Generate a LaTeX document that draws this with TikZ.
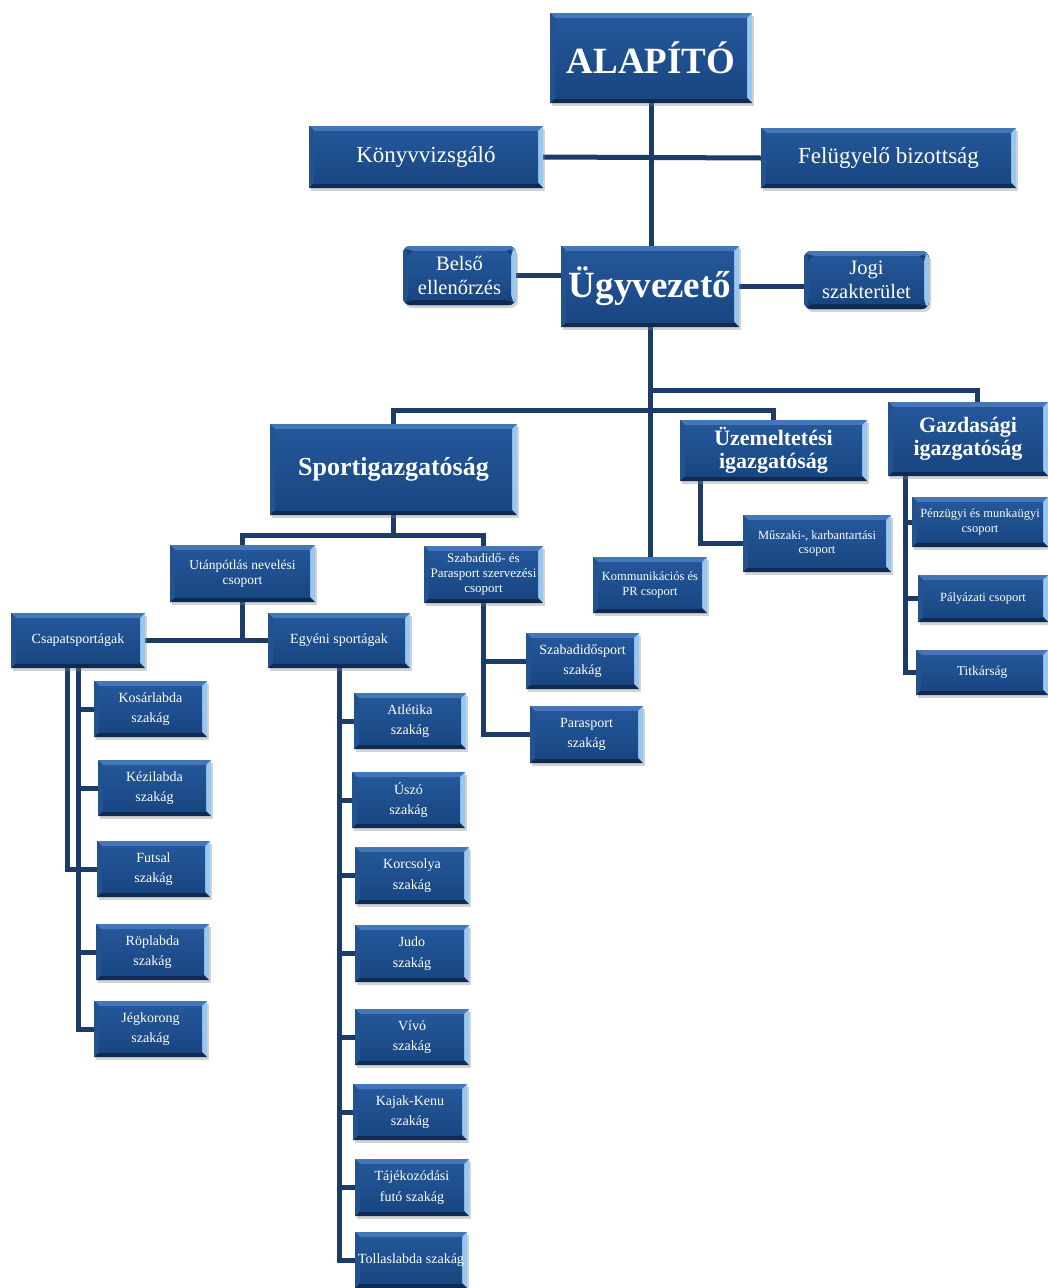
\documentclass[tikz,border=0pt]{standalone}
\usepackage{fontspec}
\setmainfont{Liberation Serif}
\usetikzlibrary{shadows}
\pgfdeclarelayer{bg}
\pgfsetlayers{bg,main}
\definecolor{boxbase}{HTML}{17417A}
\definecolor{bvtop}{HTML}{4577B8}
\definecolor{bvright}{HTML}{98C8F0}
\definecolor{bvbot}{HTML}{0E2A52}
\definecolor{bvleft}{HTML}{22538F}
\definecolor{intop}{HTML}{24579A}
\definecolor{inbot}{HTML}{184681}
\definecolor{linecol}{HTML}{1C3B69}
\begin{document}
\begin{tikzpicture}[x=1pt,y=-1pt,
  box/.style={fill=boxbase, text=white, align=center, inner sep=1pt,
    drop shadow={shadow xshift=2pt, shadow yshift=-3pt, opacity=0.35},
    path picture={
      \coordinate (ppa) at (path picture bounding box.north west);
      \coordinate (ppb) at (path picture bounding box.north east);
      \coordinate (ppc) at (path picture bounding box.south east);
      \coordinate (ppd) at (path picture bounding box.south west);
      \fill[bvtop] (ppa) -- (ppb) -- ([shift={(-5pt,-5pt)}]ppb) -- ([shift={(5pt,-5pt)}]ppa) -- cycle;
      \fill[bvright] (ppb) -- (ppc) -- ([shift={(-5pt,5pt)}]ppc) -- ([shift={(-5pt,-5pt)}]ppb) -- cycle;
      \fill[bvbot] (ppc) -- (ppd) -- ([shift={(5pt,5pt)}]ppd) -- ([shift={(-5pt,5pt)}]ppc) -- cycle;
      \fill[bvleft] (ppd) -- (ppa) -- ([shift={(5pt,-5pt)}]ppa) -- ([shift={(5pt,5pt)}]ppd) -- cycle;
      \shade[top color=intop, bottom color=inbot] ([shift={(5pt,-5pt)}]ppa) rectangle ([shift={(-5pt,5pt)}]ppc);
    }},
  rbox/.style={box, rounded corners=7pt},
  conn/.style={draw=linecol, line width=5pt},
  fhuge/.style={font=\bfseries\fontsize{37}{40}\selectfont},
  fbig/.style={font=\bfseries\fontsize{37}{40}\selectfont},
  fhead/.style={font=\bfseries\fontsize{26}{28}\selectfont},
  fsub/.style={font=\bfseries\fontsize{22}{23.5}\selectfont},
  freg/.style={font=\fontsize{23}{25}\selectfont},
  fmid/.style={font=\fontsize{20.5}{24}\selectfont},
  fsm/.style={font=\fontsize{14}{20.5}\selectfont},
  fgr/.style={font=\fontsize{13.5}{15.5}\selectfont},
  fxs/.style={font=\fontsize{12.5}{14.5}\selectfont}
]
\useasboundingbox (0,0) rectangle (1048,1288);

% top levels
\node[box, fhuge, minimum width=202pt, minimum height=90pt] (alap) at (651,58) {ALAPÍTÓ};
\node[box, freg, minimum width=234pt, minimum height=62pt] (konyv) at (426,157) {Könyvvizsgáló};
\node[box, freg, minimum width=255pt, minimum height=60pt] (fel) at (888.5,158) {Felügyelő bizottság};
\node[rbox, fmid, minimum width=113pt, minimum height=59pt] (belso) at (459.5,275.5) {Belső\\ellenőrzés};
\node[box, fbig, minimum width=178pt, minimum height=81pt] (ugy) at (650,286.5) {Ügyvezető};
\node[rbox, fmid, minimum width=125pt, minimum height=58pt] (jogi) at (866.5,280) {Jogi\\szakterület};

% directorates
\node[box, fhead, minimum width=247pt, minimum height=91pt] (sport) at (393.5,469.5) {Sportigazgatóság};
\node[box, fsub, minimum width=187pt, minimum height=61pt] (uzem) at (773.5,450.5) {Üzemeltetési\\igazgatóság};
\node[box, fsub, minimum width=160pt, minimum height=74pt] (gazd) at (968,439) {Gazdasági\\igazgatóság};

% groups
\node[box, fxs, minimum width=114pt, minimum height=56pt] (komm) at (650,585) {Kommunikációs és\\PR csoport};
\node[box, fxs, minimum width=148pt, minimum height=57pt] (musz) at (817,543.5) {Műszaki-, karbantartási\\csoport};
\node[box, fxs, minimum width=136pt, minimum height=50pt] (penz) at (980,522) {Pénzügyi és munkaügyi\\csoport};
\node[box, fxs, minimum width=130pt, minimum height=47pt] (paly) at (983,598.5) {Pályázati csoport};
\node[box, fgr, minimum width=132pt, minimum height=45pt] (titk) at (982,672.5) {Titkárság};
\node[box, fgr, minimum width=145pt, minimum height=57pt] (utan) at (242.5,573.5) {Utánpótlás nevelési\\csoport};
\node[box, font=\fontsize{13}{15}\selectfont, minimum width=119pt, minimum height=57pt] (szab) at (483.5,574.5) {Szabadidő- és\\Parasport szervezési\\csoport};
\node[box, fsm, minimum width=134pt, minimum height=55pt] (csap) at (78,640.5) {Csapatsportágak};
\node[box, fsm, minimum width=142pt, minimum height=55pt] (egyeni) at (339,640.5) {Egyéni sportágak};
\node[box, fsm, minimum width=113pt, minimum height=56pt] (szsport) at (582.5,661) {Szabadidősport\\szakág};
\node[box, fsm, minimum width=113pt, minimum height=57pt] (para) at (586.5,734.5) {Parasport\\szakág};

% team sports
\node[box, fsm, minimum width=113pt, minimum height=56pt] (kos) at (150.5,709) {Kosárlabda\\szakág};
\node[box, fsm, minimum width=113pt, minimum height=56pt] (kez) at (154.5,788) {Kézilabda\\szakág};
\node[box, fsm, minimum width=113pt, minimum height=56pt] (fut) at (153.5,869) {Futsal\\szakág};
\node[box, fsm, minimum width=113pt, minimum height=56pt] (rop) at (152.5,952) {Röplabda\\szakág};
\node[box, fsm, minimum width=113pt, minimum height=56pt] (jeg) at (150.5,1029) {Jégkorong\\szakág};

% individual sports
\node[box, fsm, minimum width=112pt, minimum height=56pt] (atl) at (410,721) {Atlétika\\szakág};
\node[box, fsm, minimum width=113pt, minimum height=56pt] (usz) at (408.5,800) {Úszó\\szakág};
\node[box, fsm, minimum width=114pt, minimum height=57pt] (kor) at (412,875.5) {Korcsolya\\szakág};
\node[box, fsm, minimum width=114pt, minimum height=57pt] (judo) at (412,953.5) {Judo\\szakág};
\node[box, fsm, minimum width=114pt, minimum height=56pt] (vivo) at (412,1037) {Vívó\\szakág};
\node[box, fsm, minimum width=114pt, minimum height=56pt] (kajak) at (410,1112) {Kajak-Kenu\\szakág};
\node[box, fsm, minimum width=114pt, minimum height=57pt] (taj) at (412,1187.5) {Tájékozódási\\futó szakág};
\node[box, fsm, minimum width=112pt, minimum height=56pt] (toll) at (411,1260) {Tollaslabda szakág};

\begin{pgfonlayer}{bg}
  \draw[conn] (alap.south) -- (alap.south |- ugy.north);
  \draw[conn] (konyv.east) -- (fel.west);
  \draw[conn] (belso.east) -- (belso.east -| ugy.west);
  \draw[conn] (ugy.east) -- (ugy.east -| jogi.west);
  \draw[conn] (ugy.south) -- (komm.north);
  \coordinate (j1) at (650,390);
  \coordinate (j2) at (650,410);
  \draw[conn] (j1) -| ([xshift=9pt]gazd.north);
  \draw[conn] (sport.north) |- (j2) -| (uzem.north);
  \coordinate (s1) at (393.5,535);
  \draw[conn] (sport.south) -- (s1);
  \draw[conn] (utan.north) |- (s1) -| (szab.north);
  \draw[conn] (utan.south) -- (utan.south |- csap.east);
  \draw[conn] (csap.east) -- (egyeni.west);
  % team sports
  \draw[conn] ([xshift=-11pt]csap.south) |- (fut.west);
  \draw[conn] (csap.south) |- (jeg.west);
  \draw[conn] (csap.south |- kos.west) -- (kos.west);
  \draw[conn] (csap.south |- kez.west) -- (kez.west);
  \draw[conn] (csap.south |- rop.west) -- (rop.west);
  % individual sports
  \draw[conn] (egyeni.south) |- (toll.west);
  \foreach \n in {atl,usz,kor,judo,vivo,kajak,taj}
    \draw[conn] (egyeni.south |- \n.west) -- (\n.west);
  % leisure
  \draw[conn] (szab.south) |- (para.west);
  \draw[conn] (szab.south |- szsport.west) -- (szsport.west);
  % operations
  \draw[conn] ([xshift=-73.5pt]uzem.south) |- (musz.west);
  % finance
  \draw[conn] ([xshift=-63pt]gazd.south) |- (titk.west);
  \draw[conn] ([xshift=-63pt]gazd.south |- penz.west) -- (penz.west);
  \draw[conn] ([xshift=-63pt]gazd.south |- paly.west) -- (paly.west);
\end{pgfonlayer}
\end{tikzpicture}
\end{document}
